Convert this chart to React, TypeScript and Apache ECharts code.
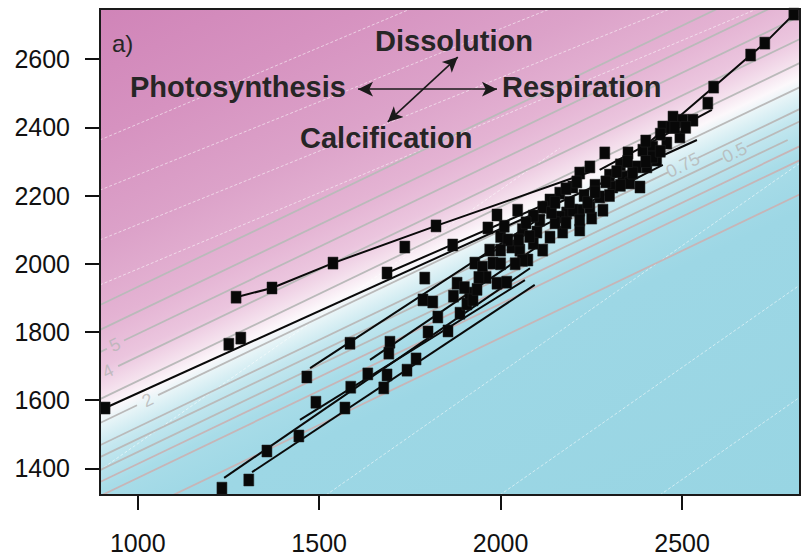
import { useEffect, useRef } from 'react';
import * as echarts from 'echarts';

// ---- axis ranges and ticks ----
const X_MIN = 896;
const X_MAX = 2825;
const Y_MIN = 1322;
const Y_MAX = 2747;
const xTicks = [1000, 1500, 2000, 2500];
const yTicks = [1400, 1600, 1800, 2000, 2200, 2400, 2600];

// ---- observed samples (x, y) ----
const samplePoints: number[][] = [
  [910, 1577], [1271, 1902], [1370, 1929], [1538, 2002], [1822, 2111], [1687, 1973], [1868, 2055],
  [1251, 1764], [1284, 1782], [1466, 1668], [1491, 1594], [1585, 1767], [1634, 1677], [1587, 1638],
  [1571, 1577], [1356, 1451], [1444, 1495], [1232, 1342], [1306, 1366], [1687, 1674], [1678, 1636],
  [1695, 1770], [1692, 1738], [1767, 1721], [1742, 1688], [1800, 1800], [1855, 1803], [1827, 1844],
  [1888, 1855], [1907, 1882], [1786, 1894], [1813, 1888], [1880, 1943], [1915, 1914], [1990, 1943],
  [2017, 1946], [1736, 2049], [1791, 1958],
  [1929, 2002], [1965, 2105], [1990, 2143], [2047, 2157], [1979, 2002], [2031, 2049], [2053, 2040],
  [2075, 2011], [1924, 1894], [2100, 2093], [2116, 2040], [2108, 2128], [2136, 2078], [2171, 2093],
  [2218, 2099], [2251, 2134], [2127, 2166], [2182, 2149], [2218, 2157], [2287, 2325], [2351, 2325],
  [2246, 2284], [2218, 2266], [2199, 2225], [2163, 2207], [2136, 2187], [2116, 2166], [2447, 2401],
  [2475, 2430], [2502, 2421], [2530, 2421], [2392, 2333], [2419, 2342], [2375, 2284], [2337, 2254],
  [2309, 2225], [2273, 2196], [2282, 2157], [2246, 2166], [2199, 2157], [2218, 2128], [2163, 2137],
  [2494, 2372], [2458, 2354], [2430, 2304], [2356, 2237], [2384, 2225], [2364, 2266], [2403, 2284],
  [2419, 2313],
  [2808, 2732], [2728, 2647], [2689, 2612], [2587, 2518], [2571, 2471],
  [2000, 2080], [2060, 2100], [2150, 2120], [2190, 2180], [2230, 2200], [2260, 2230], [2300, 2260],
  [2330, 2290], [2060, 2010], [2090, 2060], [2140, 2150], [2180, 2120], [2240, 2180], [2020, 2070],
  [2090, 2140],
  [1950, 1990], [1960, 1960], [2000, 2000], [2040, 2000], [2000, 2040], [1940, 1960], [2050, 2070],
  [1970, 2040], [2080, 2080], [2070, 2120], [1900, 1930], [1935, 1925], [1870, 1905], [2010, 2110],
  [2400, 2360], [2440, 2380], [2470, 2400], [2350, 2300], [2320, 2270], [2290, 2240], [2260, 2210],
  [2400, 2300], [2440, 2330], [2480, 2400], [2510, 2400], [2180, 2220], [2210, 2240], [2150, 2180],
  [2330, 2230], [2300, 2200],
];

// ---- per-site trend lines ----
const siteLines: number[][][] = [
  [[910, 1577], [2541, 2363]],
  [[1271, 1902], [1370, 1929], [1538, 2002], [1822, 2111], [2246, 2269]],
  [[1687, 1973], [2163, 2193]],
  [[2808, 2732], [2728, 2647], [2689, 2612], [2587, 2518], [2384, 2333]],
  [[2273, 2275], [2582, 2451]],
  [[1943, 2017], [2447, 2290]],
  [[1238, 1372], [2081, 1987]],
  [[1315, 1389], [2094, 1938]],
  [[1475, 1694], [2122, 2143]],
  [[1640, 1718], [2108, 2055]],
  [[1447, 1542], [2067, 1952]],
];

// ---- saturation contours (grey) ----
const greyContours: number[][][] = [
  [[896, 1879], [2825, 2864]],
  [[896, 1806], [2825, 2791]],
  [[896, 1741], [915, 1751]], [[962, 1775], [2825, 2726]],
  [[946, 1700], [2825, 2659]],
  [[896, 1603], [2825, 2589]],
  [[896, 1533], [998, 1585]], [[1056, 1615], [2825, 2518]],
  [[896, 1468], [2461, 2268]], [[2543, 2310], [2825, 2454]],
  [[896, 1433], [2612, 2309]], [[2678, 2343], [2825, 2418]],
  [[896, 1395], [2791, 2363]],
];
const pinkGreyContours: number[][][] = [
  [[896, 1360], [2825, 2345]],
  [[896, 1319], [2825, 2304]],
  [[896, 1219], [2825, 2204]],
];
const contourLabelText = ['5', '4', '2', '0.75', '0.5'];
const contourLabelPos: number[][] = [[937, 1762], [918, 1685], [1027, 1600], [2502, 2289], [2645, 2326]];

// ---- faint secondary contours (white) ----
const whiteContours: number[][][] = [
  [[1519, 1322], [2825, 2295]],
  [[1998, 1322], [2825, 1938]],
  [[2439, 1322], [2825, 1609]],
  [[896, 1395], [2163, 2339]],
  [[896, 2363], [1778, 2759]],
  [[896, 2216], [2163, 2759]],
  [[896, 2070], [2494, 2759]],
  [[896, 1938], [2825, 2800]],
];

// ---- process arrows and names ----
const processArrows: number[][][] = [
  [[1607, 2512], [1990, 2512]],
  [[1689, 2416], [1882, 2606]],
];
const processNames = ['Dissolution', 'Photosynthesis', 'Respiration', 'Calcification'];
const panelTag = 'a)';

const FONT = '"Liberation Sans", Arial, Helvetica, sans-serif';

export default function App() {
  const ref = useRef<HTMLDivElement>(null);

  useEffect(() => {
    if (!ref.current) return;
    const chart = echarts.init(ref.current, undefined, { renderer: 'svg' });

    const lineSeries = (segs: number[][][], color: string, width: number, z: number, type: any = 'solid') =>
      segs.map((seg) => ({
        type: 'line',
        data: seg,
        showSymbol: false,
        symbol: 'none',
        silent: true,
        z,
        clip: true,
        lineStyle: { color, width, type },
        emphasis: { disabled: true },
      }));

    const bg = new echarts.graphic.LinearGradient(
      100, 9, 419, 676.5,
      [
        { offset: 0, color: '#d084b8' },
        { offset: 0.154, color: '#d692c0' },
        { offset: 0.289, color: '#dca2c9' },
        { offset: 0.384, color: '#e4b3d3' },
        { offset: 0.438, color: '#ebc5de' },
        { offset: 0.472, color: '#f5e2ee' },
        { offset: 0.492, color: '#fcf8fb' },
        { offset: 0.508, color: '#e6f4f7' },
        { offset: 0.539, color: '#c4e7ef' },
        { offset: 0.587, color: '#a8dce8' },
        { offset: 0.654, color: '#9dd7e5' },
        { offset: 1, color: '#98d5e3' },
      ],
      true
    );

    const textStyle = (text: string, x: number, y: number, bold = true, size = 29) => ({
      type: 'text',
      z: 100,
      silent: true,
      x,
      y,
      style: {
        text,
        fill: '#262626',
        font: `${bold ? 'bold ' : ''}${size}px ${FONT}`,
        textAlign: 'left',
        textVerticalAlign: 'middle',
      },
    });

    chart.setOption({
      animation: false,
      grid: { left: 100, right: 1, top: 9, bottom: 61, show: false },
      xAxis: {
        type: 'value',
        min: X_MIN,
        max: X_MAX,
        axisLine: { show: false },
        splitLine: { show: false },
        axisTick: { show: true, length: 15, lineStyle: { color: '#111', width: 2 }, customValues: xTicks },
        axisLabel: {
          customValues: xTicks, margin: 35, fontSize: 25, color: '#111', fontFamily: FONT,
          formatter: (v: number) => String(v),
        },
      },
      yAxis: {
        type: 'value',
        min: Y_MIN,
        max: Y_MAX,
        axisLine: { show: false },
        splitLine: { show: false },
        axisTick: { show: true, length: 15, lineStyle: { color: '#111', width: 2 }, customValues: yTicks },
        axisLabel: {
          customValues: yTicks, margin: 30, fontSize: 25, color: '#111', fontFamily: FONT,
          formatter: (v: number) => String(v),
        },
      },
      graphic: [
        { type: 'rect', z: 0, silent: true, shape: { x: 100, y: 9, width: 700, height: 486 }, style: { fill: bg } },
        textStyle(panelTag, 112, 43, false, 24),
        textStyle(processNames[0], 375, 41),
        textStyle(processNames[1], 130, 87),
        textStyle(processNames[2], 502, 87),
        textStyle(processNames[3], 300, 138),
        {
          type: 'rect', z: 100, silent: true,
          shape: { x: 100, y: 9, width: 700, height: 486 },
          style: { fill: 'none', stroke: '#1a1a1a', lineWidth: 2 },
        },
      ],
      series: [
        ...lineSeries(whiteContours, 'rgba(255,255,255,0.55)', 1, 1, [3, 2]),
        ...lineSeries(greyContours, '#bababa', 1.8, 1),
        ...lineSeries(pinkGreyContours, '#c7b5b7', 1.8, 1),
        {
          type: 'scatter',
          silent: true,
          z: 1,
          symbolSize: 0,
          data: contourLabelPos.map((p, i) => ({ value: p, name: contourLabelText[i] })),
          label: {
            show: true,
            position: 'inside',
            formatter: (p: any) => p.name,
            rotate: 26,
            color: '#b5b5b5',
            fontSize: 18,
            fontFamily: FONT,
          },
        },
        ...lineSeries(siteLines, '#0a0a0a', 2, 3),
        {
          type: 'scatter',
          silent: true,
          z: 4,
          symbol: 'rect',
          symbolSize: [10, 12],
          itemStyle: { color: '#080808', opacity: 1, borderColor: '#222', borderWidth: 0.5 },
          data: samplePoints,
          markLine: {
            silent: true,
            symbol: ['arrow', 'arrow'],
            symbolSize: [11, 15],
            label: { show: false },
            lineStyle: { color: '#1a1a1a', width: 1.6, type: 'solid', opacity: 1 },
            emphasis: { disabled: true },
            data: processArrows.map((a) => [{ coord: a[0] }, { coord: a[1] }]),
          },
        },
      ],
    });

    return () => chart.dispose();
  }, []);

  return <div ref={ref} style={{ position: 'absolute', left: 0, top: 0, width: 801, height: 556 }} />;
}
